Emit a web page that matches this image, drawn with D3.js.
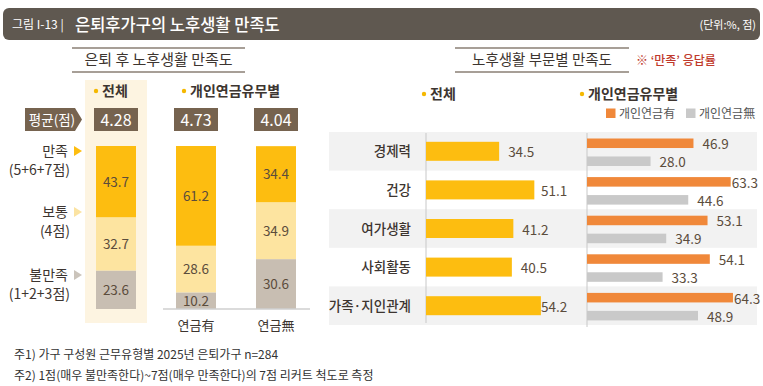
<!DOCTYPE html>
<html><head><meta charset="utf-8">
<script src="https://cdn.jsdelivr.net/npm/d3@7"></script>
<style>
html,body{margin:0;padding:0;background:#fff;}
svg{display:block;font-family:"Noto Sans CJK KR","Noto Sans",sans-serif;}
</style></head>
<body>
<svg id="c" width="763" height="386"></svg>
<script>
// ---- data ----
const stackCats = ['전체', '연금有', '연금無'];
const satisfied = [43.7, 61.2, 34.4];
const neutral = [32.7, 28.6, 34.9];
const dissatisfied = [23.6, 10.2, 30.6];
const averages = [4.28, 4.73, 4.04];
const levelLabels = [['만족', '(5+6+7점)'], ['보통', '(4점)'], ['불만족', '(1+2+3점)']];

const sectors = ['경제력', '건강', '여가생활', '사회활동', '가족·지인관계'];
const sectorTotal = [34.5, 51.1, 41.2, 40.5, 54.2];
const sectorWithPension = [46.9, 63.3, 53.1, 54.1, 64.3];
const sectorNoPension = [28.0, 44.6, 34.9, 33.3, 48.9];
const legendLabels = ['개인연금有', '개인연금無'];

const notes = ['주1) 가구 구성원 근무유형별 2025년 은퇴가구 n=284',
  '주2) 1점(매우 불만족한다)~7점(매우 만족한다)의 7점 리커트 척도로 측정'];

// ---- styles ----
const C = {gold:'#fdbd10', light:'#fde4a0', grey:'#c8beb2', orange:'#f0883a', lgrey:'#c9c9c9',
  brown:'#76634f', header:'#5f5850', text:'#3d3530', val:'#5b4c3c', stripe:'#f2f2f2', band:'#fdf4e1'};

const svg = d3.select('#c');

// header
svg.append('rect').attr('x',3).attr('y',8).attr('width',757).attr('height',32).attr('rx',6).attr('fill',C.header);
svg.append('text').attr('x',12).attr('y',29).attr('fill','#fff').attr('font-size',12).text('그림 I-13 |');
svg.append('text').attr('x',75).attr('y',30.5).attr('fill','#fff').attr('font-size',16.5).attr('font-weight',500).text('은퇴후가구의 노후생활 만족도');
svg.append('text').attr('x',756).attr('y',29).attr('fill','#fff').attr('font-size',11).attr('text-anchor','end').text('(단위:%, 점)');

// section titles
function sectionTitle(x0, x1, label, fs){
  const g = svg.append('g');
  g.append('line').attr('x1',x0).attr('x2',x1).attr('y1',48).attr('y2',48).attr('stroke','#8a7f74').attr('stroke-width',1.5);
  g.append('line').attr('x1',x0).attr('x2',x1).attr('y1',72).attr('y2',72).attr('stroke','#8a7f74').attr('stroke-width',1.5);
  g.append('text').attr('x',(x0+x1)/2).attr('y',65).attr('text-anchor','middle').attr('font-size',fs).attr('fill',C.text).text(label);
}
sectionTitle(72, 245, '은퇴 후 노후생활 만족도', 15);
sectionTitle(455, 629, '노후생활 부문별 만족도', 14.5);
svg.append('text').attr('x',636).attr('y',65).attr('font-size',12).attr('font-weight',500).attr('fill','#c0392b').text('※ ‘만족’ 응답률');

function bulletHead(x, y, label){
  svg.append('circle').attr('cx',x).attr('cy',y-5).attr('r',2.2).attr('fill','#f5b800');
  svg.append('text').attr('x',x+6).attr('y',y).attr('font-size',14).attr('font-weight',700).attr('fill',C.text).text(label);
}

// ---- left stacked chart ----
const x = d3.scaleBand().domain(stackCats).range([76, 316]).paddingInner(0.5).paddingOuter(0.25);
const y = d3.scaleLinear().domain([0, 100]).range([309, 146]);

svg.append('rect').attr('x',x('전체')-11).attr('y',80).attr('width',x.bandwidth()+22).attr('height',243).attr('fill',C.band);
bulletHead(96, 96, '전체');
bulletHead(184, 96, '개인연금유무별');

// average row
const avgG = svg.append('g');
avgG.append('path').attr('d','M25,108 L75,108 L82,119.5 L75,131 L25,131 Z').attr('fill',C.brown);
avgG.append('text').attr('x',52).attr('y',125).attr('text-anchor','middle').attr('fill','#fff').attr('font-size',13.5).text('평균(점)');
stackCats.forEach((c,i)=>{
  avgG.append('rect').attr('x',x(c)-2).attr('y',108).attr('width',x.bandwidth()+4).attr('height',23).attr('fill',C.brown);
  avgG.append('text').attr('x',x(c)+x.bandwidth()/2).attr('y',126).attr('text-anchor','middle').attr('fill','#fff').attr('font-size',16).text(averages[i].toFixed(2));
});

const rows = stackCats.map((c,i)=>({cat:c, dis:dissatisfied[i], neu:neutral[i], sat:satisfied[i]}));
const stack = d3.stack().keys(['dis','neu','sat'])(rows);
const segColor = {dis:C.grey, neu:C.light, sat:C.gold};
stack.forEach(layer=>{
  const g = svg.append('g');
  g.selectAll('rect').data(layer).join('rect')
    .attr('x',d=>x(d.data.cat)).attr('width',x.bandwidth())
    .attr('y',d=>y(d[1])).attr('height',d=>y(d[0])-y(d[1]))
    .attr('fill',segColor[layer.key]);
  g.selectAll('text').data(layer).join('text')
    .attr('x',d=>x(d.data.cat)+x.bandwidth()/2).attr('y',d=>(y(d[0])+y(d[1]))/2+5)
    .attr('text-anchor','middle').attr('font-size',13.5).attr('fill',C.val)
    .text(d=>d.data[layer.key].toFixed(1));
});
svg.append('line').attr('x1',163).attr('x2',310).attr('y1',y(0)).attr('y2',y(0)).attr('stroke','#cfcfcf').attr('stroke-width',1.5);
stackCats.slice(1).forEach(c=>{
  svg.append('text').attr('x',x(c)+x.bandwidth()/2).attr('y',330).attr('text-anchor','middle').attr('font-size',13).attr('fill',C.text).text(c);
});

// level labels with triangles
const levelY = [151, 212, 275];
const triColor = [C.gold, '#fbe3a2', '#cbc4bb'];
levelLabels.forEach((l,i)=>{
  svg.append('text').attr('x',68).attr('y',levelY[i]+5).attr('text-anchor','end').attr('font-size',14).attr('fill',C.text).text(l[0]);
  svg.append('text').attr('x',70).attr('y',levelY[i]+24).attr('text-anchor','end').attr('font-size',14).attr('fill',C.text).text(l[1]);
  svg.append('path').attr('d',`M74,${levelY[i]-5} L82,${levelY[i]} L74,${levelY[i]+5} Z`).attr('fill',triColor[i]);
});

// ---- right sector chart ----
const ry = d3.scaleBand().domain(sectors).range([132, 325]);
const inner = d3.scaleBand().domain(['有','無']).range([2, 38.5]).paddingInner(0.47).paddingOuter(0.25);
const xt = d3.scaleLinear().domain([0, 100]).range([426, 638]);
const xp = d3.scaleLinear().domain([0, 100]).range([587, 814]);

sectors.forEach((s,i)=>{
  if(i%2===0) svg.append('rect').attr('x',329).attr('y',ry(s)).attr('width',428).attr('height',ry.bandwidth()).attr('fill',C.stripe);
});
bulletHead(424, 99, '전체');
bulletHead(582, 99, '개인연금유무별');

// legend
[[C.orange, legendLabels[0], 606],[C.lgrey, legendLabels[1], 686]].forEach(([col,lab,lx])=>{
  svg.append('rect').attr('x',lx).attr('y',108.5).attr('width',9.5).attr('height',9.5).attr('fill',col);
  svg.append('text').attr('x',lx+13).attr('y',118).attr('font-size',12).attr('fill','#555').text(lab);
});

// axis lines
svg.append('line').attr('x1',xt(0)).attr('x2',xt(0)).attr('y1',133).attr('y2',323).attr('stroke','#c8c8c8');
svg.append('line').attr('x1',xp(0)).attr('x2',xp(0)).attr('y1',133).attr('y2',327).attr('stroke','#c8c8c8');

const bh = 19;
sectors.forEach((s,i)=>{
  const cy = ry(s)+ry.bandwidth()/2;
  svg.append('text').attr('x',411).attr('y',cy+5).attr('text-anchor','end').attr('font-size',13.5).attr('font-weight',500).attr('fill',C.text).text(s);
  svg.append('rect').attr('x',xt(0)).attr('y',cy-bh/2).attr('width',xt(sectorTotal[i])-xt(0)).attr('height',bh).attr('fill',C.gold);
  const tx = Math.min(xt(sectorTotal[i])+9, 541);
  svg.append('text').attr('x',tx).attr('y',cy+6).attr('font-size',13.5).attr('fill',C.val).text(sectorTotal[i].toFixed(1));
  [['有', sectorWithPension[i], C.orange],['無', sectorNoPension[i], C.lgrey]].forEach(([k,v,col])=>{
    const by = ry(s)+inner(k);
    svg.append('rect').attr('x',xp(0)).attr('y',by).attr('width',xp(v)-xp(0)).attr('height',inner.bandwidth()).attr('fill',col);
    const lx = xp(v) > 720 ? xp(v)+1 : xp(v)+9;
    svg.append('text').attr('x',lx).attr('y',by+inner.bandwidth()/2+6).attr('font-size',13.5).attr('fill',C.val).text(v.toFixed(1));
  });
});

// notes
notes.forEach((n,i)=>{
  svg.append('text').attr('x',14).attr('y',359+i*21).attr('font-size',12).attr('fill','#333').text(n);
});
</script>
</body></html>
